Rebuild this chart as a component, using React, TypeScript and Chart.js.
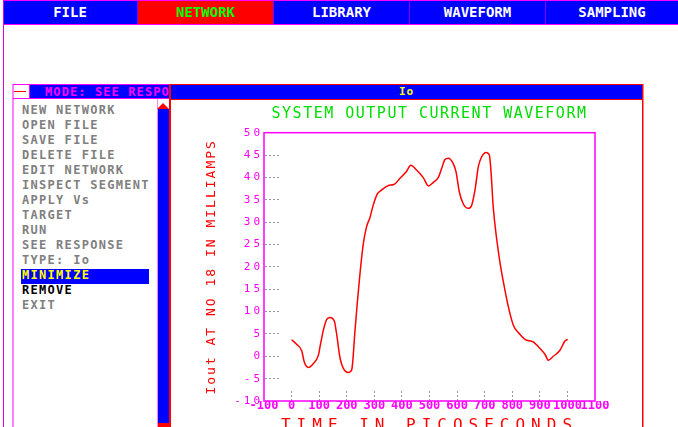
import React, { useEffect, useRef } from 'react';
import { Chart, registerables } from 'chart.js';

Chart.register(...registerables);

// ---------- data ----------
const menuItems = ['FILE', 'NETWORK', 'LIBRARY', 'WAVEFORM', 'SAMPLING'];
const activeMenu = 'NETWORK';
const commandItems = [
  'NEW NETWORK', 'OPEN FILE', 'SAVE FILE', 'DELETE FILE', 'EDIT NETWORK',
  'INSPECT SEGMENT', 'APPLY Vs', 'TARGET', 'RUN', 'SEE RESPONSE', 'TYPE: Io',
  'MINIMIZE', 'REMOVE', 'EXIT',
];
const highlightedItem = 'MINIMIZE';
const boldItem = 'REMOVE';
const panelTitle = 'MODE: SEE RESPONSE';
const windowTitle = 'Io';
const chartTitle = 'SYSTEM OUTPUT CURRENT WAVEFORM';
const xAxisTitle = 'TIME IN PICOSECONDS';
const yAxisTitle = 'Iout AT NO 18 IN MILLIAMPS';

const xMin = -100;
const xMax = 1100;
const xStep = 100;
const yMin = -10;
const yMax = 50;
const yStep = 5;

const timePs = [
  0, 18, 37, 46, 61, 79, 97, 103, 115, 127, 139, 155, 163, 176, 188, 206, 218,
  230, 238, 248, 260, 272, 284, 296, 311, 327, 351, 371, 393, 417, 432, 454,
  478, 496, 514, 532, 544, 556, 568, 586, 596, 608, 623, 641, 653, 665, 677,
  689, 705, 717, 723, 731, 744, 756, 768, 786, 804, 822, 846, 876, 901, 919,
  931, 949, 973, 991, 1001,
];
const currentMa = [
  3.7, 2.7, 1.2, -1.3, -2.5, -1.6, 0.2, 2.1, 5.8, 8.2, 8.7, 7.9, 5.1, -0.5,
  -2.75, -3.6, -3.0, 5.8, 11.8, 18.5, 25.2, 29.0, 31.0, 33.8, 36.3, 37.2, 38.2,
  38.4, 39.8, 41.4, 42.7, 41.6, 39.9, 38.1, 38.9, 40.0, 42.0, 44.0, 44.3, 43.1,
  41.3, 36.8, 34.0, 33.1, 33.8, 37.2, 42.4, 44.6, 45.6, 45.0, 41.3, 33.4, 26.0,
  20.8, 16.6, 11.05, 6.95, 5.3, 3.8, 3.2, 1.7, 0.4, -0.9, 0.0, 1.35, 3.4, 3.8,
];

// ---------- styles ----------
const mono = "'DejaVu Sans Mono', 'Liberation Mono', monospace";
const MAGENTA = '#ff00ff';
const PINK = '#ff80ff';
const BLUE = '#0000ff';
const RED = '#ff0000';
const menuBounds = [3, 138, 274, 410, 546, 678];

const spacingPlugin = {
  id: 'letterSpacing',
  afterLayout(chart: any) {
    const wrap = (obj: any, key: string, spacing: string) => {
      if (!obj || obj['__wrapped_' + key]) return;
      const orig = obj[key];
      obj[key] = function (...args: any[]) {
        const ctx = chart.ctx as any;
        const prev = ctx.letterSpacing;
        ctx.letterSpacing = spacing;
        try {
          return orig.apply(this, args);
        } finally {
          ctx.letterSpacing = prev || '0px';
        }
      };
      obj['__wrapped_' + key] = true;
    };
    wrap(chart.scales.y, 'drawLabels', '3px');
    wrap(chart.scales.y, 'drawTitle', '2px');
    wrap(chart.scales.x, 'drawTitle', '6px');
    wrap(chart.titleBlock, 'draw', '1.5px');
  },
};

const framePlugin = {
  id: 'frame',
  afterDatasetsDraw(chart: any) {
    const { ctx, chartArea } = chart;
    ctx.save();
    ctx.strokeStyle = MAGENTA;
    ctx.lineWidth = 1.5;
    ctx.strokeRect(chartArea.left, chartArea.top, chartArea.right - chartArea.left, chartArea.bottom - chartArea.top);
    ctx.restore();
  },
};

function WaveChart() {
  const ref = useRef<HTMLCanvasElement | null>(null);
  useEffect(() => {
    if (!ref.current) return;
    const chart = new Chart(ref.current, {
      type: 'line',
      data: {
        datasets: [
          {
            data: timePs.map((t, i) => ({ x: t, y: currentMa[i] })),
            borderColor: RED,
            borderWidth: 1.5,
            pointRadius: 0,
            cubicInterpolationMode: 'monotone',
            fill: false,
          },
        ],
      },
      options: {
        animation: false,
        responsive: false,
        maintainAspectRatio: false,
        events: [],
        layout: { padding: { left: 0, right: 47, top: 0, bottom: 0 } },
        plugins: {
          legend: { display: false },
          tooltip: { enabled: false },
          title: {
            display: true,
            text: chartTitle,
            color: '#00dd00',
            fullSize: false,
            font: { family: mono, size: 15, weight: 'normal', lineHeight: 1.2 },
            padding: { top: 5.5, bottom: 9.2 },
          },
        },
        scales: {
          x: {
            type: 'linear',
            min: xMin,
            max: xMax,
            ticks: {
              stepSize: xStep,
              autoSkip: false,
              maxRotation: 0,
              color: MAGENTA,
              padding: 7.8,
              callback: (v: any) => String(v),
              font: { family: mono, size: 12, weight: 'bold', lineHeight: 1.2 },
            },
            grid: {
              drawOnChartArea: false,
              drawTicks: true,
              tickLength: -10,
              tickWidth: 1,
              tickBorderDash: [2, 2],
              tickColor: (c: any) => (c.tick && c.tick.value >= 0 && c.tick.value <= 1000 ? '#999999' : 'rgba(0,0,0,0)'),
            },
            border: { display: false },
            title: {
              display: true,
              text: xAxisTitle,
              color: RED,
              font: { family: mono, size: 16, weight: 'normal', lineHeight: 1.2 },
              padding: { top: 0, bottom: 5.4 },
            },
            afterFit: (s: any) => {
              s.height = 40;
            },
          },
          y: {
            type: 'linear',
            min: yMin,
            max: yMax,
            ticks: {
              stepSize: yStep,
              color: MAGENTA,
              padding: 16,
              callback: (v: any) => String(v),
              font: { family: mono, size: 11, weight: 'normal', lineHeight: 1.2 },
            },
            grid: {
              drawOnChartArea: false,
              drawTicks: true,
              tickLength: -15,
              tickWidth: 1,
              tickBorderDash: [2, 2],
              tickColor: (c: any) => (c.tick && c.tick.value > yMin && c.tick.value < yMax ? '#999999' : 'rgba(0,0,0,0)'),
            },
            border: { display: false },
            title: {
              display: true,
              text: yAxisTitle,
              color: RED,
              font: { family: mono, size: 13, weight: 'normal', lineHeight: 1.2 },
              padding: { top: 32.9, bottom: 0 },
            },
            afterFit: (s: any) => {
              s.width = 93;
            },
          },
        },
      } as any,
      plugins: [spacingPlugin, framePlugin],
    });
    return () => chart.destroy();
  }, []);
  return (
    <canvas
      ref={ref}
      width={471}
      height={341}
      style={{ position: 'absolute', left: 171, top: 100, width: 471, height: 341 }}
    />
  );
}

const abs = (s: React.CSSProperties): React.CSSProperties => ({ position: 'absolute', ...s });

export default function App() {
  const itemFont = `bold 12px ${mono}`;
  return (
    <div style={{ position: 'fixed', left: 0, top: 0, width: 678, height: 427, overflow: 'hidden', background: '#fff' }}>
      {/* menu bar */}
      <div style={abs({ left: 3, top: 0, width: 675, height: 1, background: MAGENTA })} />
      {menuItems.map((m, i) => {
        const left = menuBounds[i];
        const right = menuBounds[i + 1];
        const active = m === activeMenu;
        return (
          <div
            key={m}
            style={abs({
              left,
              top: 1,
              width: right - left,
              height: 23,
              boxSizing: 'border-box',
              background: active ? RED : BLUE,
              borderRight: i < menuItems.length - 1 ? '1px solid #8000ff' : 'none',
              color: active ? '#00ff00' : '#ffffff',
              font: `bold 14px ${mono}`,
              lineHeight: '23px',
              textAlign: 'center',
              whiteSpace: 'nowrap',
            })}
          >
            {m}
          </div>
        );
      })}
      <div style={abs({ left: 3, top: 24, width: 675, height: 1, background: MAGENTA })} />
      <div style={abs({ left: 3, top: 0, width: 1, height: 427, background: '#e000e0' })} />

      {/* left command panel */}
      <div style={abs({ left: 12, top: 84, width: 2, height: 343, background: PINK })} />
      <div style={abs({ left: 13, top: 84, width: 157, height: 1, background: MAGENTA })} />
      <div style={abs({ left: 14, top: 91, width: 12, height: 1, background: RED })} />
      <div style={abs({ left: 29, top: 85, width: 1, height: 14, background: MAGENTA })} />
      <div style={abs({ left: 30, top: 85, width: 140, height: 13, background: BLUE, overflow: 'hidden' })}>
        <div
          style={abs({
            left: 15,
            top: 0,
            color: MAGENTA,
            font: itemFont,
            letterSpacing: '1.1px',
            lineHeight: '15px',
            whiteSpace: 'nowrap',
          })}
        >
          {panelTitle}
        </div>
      </div>
      <div style={abs({ left: 13, top: 98, width: 157, height: 1, background: MAGENTA })} />

      {/* scrollbar */}
      <div style={abs({ left: 157, top: 99, width: 1, height: 328, background: PINK })} />
      <div
        style={abs({
          left: 157,
          top: 103,
          width: 0,
          height: 0,
          borderLeft: '6px solid transparent',
          borderRight: '6px solid transparent',
          borderBottom: '6px solid ' + RED,
        })}
      />
      <div style={abs({ left: 158, top: 109, width: 11, height: 314, background: BLUE })} />
      <div style={abs({ left: 158, top: 423, width: 11, height: 4, background: RED })} />

      {/* highlighted item */}
      <div style={abs({ left: 21, top: 269, width: 128, height: 15, background: BLUE })} />
      {commandItems.map((c, i) => (
        <div
          key={c}
          style={abs({
            left: 22,
            top: 103 + 15 * i,
            font: itemFont,
            letterSpacing: '1.3px',
            lineHeight: '15px',
            whiteSpace: 'nowrap',
            color: c === highlightedItem ? '#ffff00' : c === boldItem ? '#000000' : '#808080',
          })}
        >
          {c}
        </div>
      ))}

      {/* chart window */}
      <div style={abs({ left: 169, top: 84, width: 2, height: 343, background: RED })} />
      <div style={abs({ left: 169, top: 84, width: 475, height: 1, background: RED })} />
      <div style={abs({ left: 171, top: 85, width: 471, height: 14, background: BLUE })} />
      <div style={abs({ left: 171, top: 99, width: 471, height: 1, background: RED })} />
      <div style={abs({ left: 642, top: 84, width: 1, height: 343, background: RED })} />
      <div style={abs({ left: 643, top: 84, width: 1, height: 343, background: '#ff8080' })} />
      <div
        style={abs({
          left: 171,
          top: 84,
          width: 471,
          textAlign: 'center',
          color: '#ffff00',
          font: `bold 11px ${mono}`,
          letterSpacing: '1px',
          lineHeight: '16px',
        })}
      >
        {windowTitle}
      </div>
      <WaveChart />
    </div>
  );
}
